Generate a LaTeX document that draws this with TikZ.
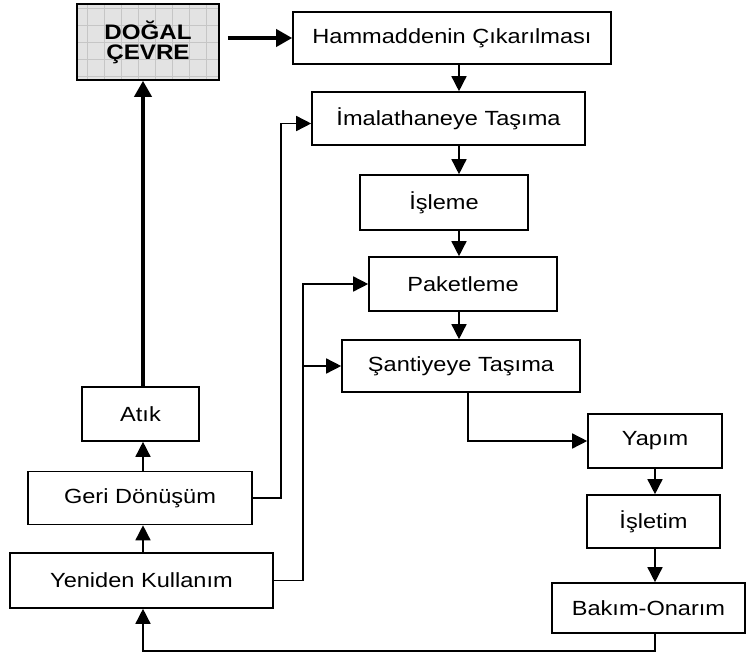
\documentclass[tikz,border=0pt]{standalone}
\usepackage{fontspec}
\setmainfont{Liberation Sans}[FakeStretch=1.15]
\usetikzlibrary{arrows.meta,calc}

\begin{document}
\begin{tikzpicture}[x=1pt,y=-1pt,
  box/.style={draw,line width=1.6pt,inner sep=0pt,font=\fontsize{20.5}{20}\selectfont},
  link/.style={line width=1.5pt,-{Triangle[length=15pt,width=15pt]}},
  heavy/.style={line width=3.6pt,-{Triangle[length=16pt,width=17pt]}}]
\useasboundingbox (0,0) rectangle (750,658);
\coordinate (spine) at (459,0);
\coordinate (lcol) at (143,0);
\coordinate (rcol) at (655,0);
\coordinate (sbend) at (468,0);

\node[box,minimum width=142pt,minimum height=76pt,fill=gray!22,align=center,
  font=\fontsize{21}{20}\selectfont\bfseries,
  path picture={\draw[gray!45,line width=0.6pt,step=17pt]
    (path picture bounding box.south west) grid (path picture bounding box.north east);}]
  (dogal) at (148,42) {DOĞAL\\ÇEVRE};
\node[box,minimum width=318pt,minimum height=52pt] (ham) at (452,38) {Hammaddenin Çıkarılması};
\node[box,minimum width=273pt,minimum height=53pt] (imal) at (448.5,118.5) {İmalathaneye Taşıma};
\node[box,minimum width=168pt,minimum height=55pt] (isleme) at (444,202.5) {İşleme};
\node[box,minimum width=188pt,minimum height=54pt] (paket) at (463,284) {Paketleme};
\node[box,minimum width=238pt,minimum height=52pt] (sant) at (461,366) {Şantiyeye Taşıma};
\node[box,minimum width=134pt,minimum height=54pt] (yapim) at (655,441) {Yapım};
\node[box,minimum width=133pt,minimum height=53pt] (isletim) at (653.5,521.5) {İşletim};
\node[box,minimum width=193pt,minimum height=50pt] (bakim) at (648.5,608) {Bakım-Onarım};
\node[box,minimum width=117pt,minimum height=54pt] (atik) at (140.5,414) {Atık};
\node[box,minimum width=224pt,minimum height=53pt] (geri) at (140,498) {Geri Dönüşüm};
\node[box,minimum width=263pt,minimum height=55pt] (yeniden) at (141.5,580.5) {Yeniden Kullanım};

% main chain
\draw[heavy] ([xshift=8pt]dogal.east |- ham.west) -- (ham.west);
\draw[link] (ham.south -| spine) -- (imal.north -| spine);
\draw[link] (imal.south -| spine) -- (isleme.north -| spine);
\draw[link] (isleme.south -| spine) -- (paket.north -| spine);
\draw[link] (paket.south -| spine) -- (sant.north -| spine);
\draw[link] (sant.south -| sbend) |- (yapim.west);
\draw[link] (yapim.south -| rcol) -- (isletim.north -| rcol);
\draw[link] (isletim.south -| rcol) -- (bakim.north -| rcol);
\draw[link] (bakim.south -| rcol) -- ++(0,17) -| (yeniden.south -| lcol);
\draw[link] (yeniden.north -| lcol) -- (geri.south -| lcol);
\draw[link] (geri.north -| lcol) -- (atik.south -| lcol);
\draw[heavy] (atik.north -| lcol) -- (dogal.south -| lcol);

% return paths
\draw[link] (geri.east) -- ++(28,0) |- ([yshift=-5pt]imal.west);
\draw[link] (yeniden.east) -- ++(29,0) coordinate (ybend) |- (paket.west);
\draw[link] (ybend |- sant.west) -- (sant.west);
\end{tikzpicture}
\end{document}
